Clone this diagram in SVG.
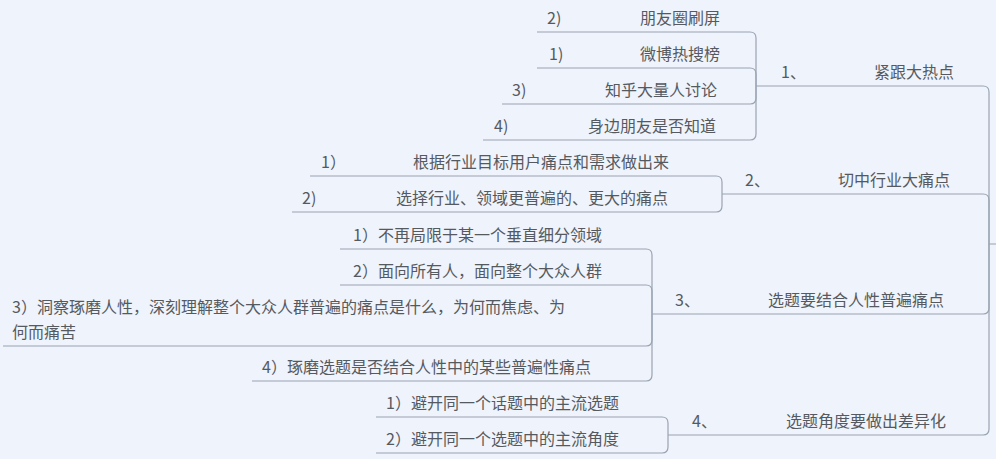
<svg xmlns="http://www.w3.org/2000/svg" width="996" height="459" viewBox="0 0 996 459">
<style>
text{font-family:"Noto Sans CJK SC","Microsoft YaHei",sans-serif;font-size:16px;fill:#555a60}
.u{stroke:#9aa4b2;stroke-width:1.2;fill:none}
.c{stroke:#9aa4b2;stroke-width:1.2;fill:none}
</style>
<rect width="996" height="459" fill="#eff3fb"/>
<g id="connectors">
<path class="c" d="M996,244 H989 V92 Q989,86 983,86"/>
<path class="c" d="M989,244 V200 Q989,194 983,194"/>
<path class="c" d="M989,244 V308 Q989,314 983,314"/>
<path class="c" d="M989,244 V429 Q989,435 983,435"/>
<path class="c" d="M756,86 V38 Q756,32 750,32"/>
<path class="c" d="M756,86 V74 Q756,68 750,68"/>
<path class="c" d="M756,86 V98 Q756,104 750,104"/>
<path class="c" d="M756,86 V134 Q756,140 750,140"/>
<path class="c" d="M722,194 V182 Q722,176 716,176"/>
<path class="c" d="M722,194 V206 Q722,212 716,212"/>
<path class="c" d="M652,314 V255 Q652,249 646,249"/>
<path class="c" d="M652,314 V291 Q652,285 646,285"/>
<path class="c" d="M652,314 V340 Q652,346 646,346"/>
<path class="c" d="M652,314 V375 Q652,381 646,381"/>
<path class="c" d="M668,435 V423 Q668,417 662,417"/>
<path class="c" d="M668,435 V447 Q668,453 662,453"/>
</g>
<g id="b1">
<text><tspan x="781" y="78">1、</tspan><tspan x="874" y="78">紧跟大热点</tspan></text>
<path class="u" d="M756,86 H983"/>
</g>
<g id="b1c1">
<text><tspan x="547" y="24">2)</tspan><tspan x="640" y="24">朋友圈刷屏</tspan></text>
<path class="u" d="M537,32 H750"/>
</g>
<g id="b1c2">
<text><tspan x="549" y="60">1)</tspan><tspan x="640" y="60">微博热搜榜</tspan></text>
<path class="u" d="M537,68 H750"/>
</g>
<g id="b1c3">
<text><tspan x="512" y="96">3)</tspan><tspan x="605" y="96">知乎大量人讨论</tspan></text>
<path class="u" d="M502,104 H750"/>
</g>
<g id="b1c4">
<text><tspan x="494" y="132">4)</tspan><tspan x="588" y="132">身边朋友是否知道</tspan></text>
<path class="u" d="M483,140 H750"/>
</g>
<g id="b2">
<text><tspan x="745" y="186">2、</tspan><tspan x="838" y="186">切中行业大痛点</tspan></text>
<path class="u" d="M722,194 H983"/>
</g>
<g id="b2c1">
<text><tspan x="321" y="168">1）</tspan><tspan x="413" y="168">根据行业目标用户痛点和需求做出来</tspan></text>
<path class="u" d="M310,176 H716"/>
</g>
<g id="b2c2">
<text><tspan x="302" y="204">2)</tspan><tspan x="396" y="204">选择行业、领域更普遍的、更大的痛点</tspan></text>
<path class="u" d="M292,212 H716"/>
</g>
<g id="b3">
<text><tspan x="675" y="306">3、</tspan><tspan x="768" y="306">选题要结合人性普遍痛点</tspan></text>
<path class="u" d="M652,314 H983"/>
</g>
<g id="b3c1">
<text x="353" y="241">1）不再局限于某一个垂直细分领域</text>
<path class="u" d="M340,249 H646"/>
</g>
<g id="b3c2">
<text x="353" y="277">2）面向所有人，面向整个大众人群</text>
<path class="u" d="M340,285 H646"/>
</g>
<g id="b3c3">
<text><tspan x="12" y="313">3）洞察琢磨人性，深刻理解整个大众人群普遍的痛点是什么，为何而焦虑、为</tspan><tspan x="12" y="338">何而痛苦</tspan></text>
<path class="u" d="M3,346 H646"/>
</g>
<g id="b3c4">
<text x="262" y="373">4）琢磨选题是否结合人性中的某些普遍性痛点</text>
<path class="u" d="M252,381 H646"/>
</g>
<g id="b4">
<text><tspan x="692" y="427">4、</tspan><tspan x="786" y="427">选题角度要做出差异化</tspan></text>
<path class="u" d="M668,435 H983"/>
</g>
<g id="b4c1">
<text x="386" y="409">1）避开同一个话题中的主流选题</text>
<path class="u" d="M376,417 H662"/>
</g>
<g id="b4c2">
<text x="386" y="445">2）避开同一个选题中的主流角度</text>
<path class="u" d="M376,453 H662"/>
</g>
</svg>
